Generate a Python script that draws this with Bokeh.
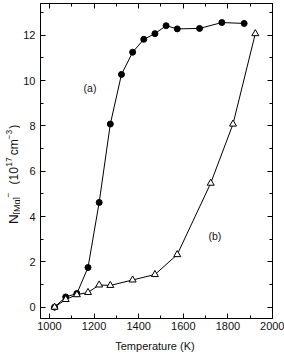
import math
from bokeh.plotting import figure
from bokeh.models import FixedTicker, LinearAxis, Label, Range1d
from bokeh.layouts import row
from bokeh.core.properties import value
from bokeh.embed import file_html
from bokeh.resources import INLINE

# ---- data ----
temps_a = [1023, 1073, 1123, 1173, 1223, 1273, 1323, 1373, 1423, 1473, 1523, 1573, 1673, 1773, 1873]
n_a = [0.0, 0.45, 0.6, 1.75, 4.62, 8.08, 10.27, 11.25, 11.82, 12.07, 12.42, 12.28, 12.3, 12.56, 12.52]

temps_b = [1023, 1073, 1123, 1173, 1223, 1273, 1373, 1473, 1573, 1723, 1823, 1923]
n_b = [0.0, 0.34, 0.55, 0.65, 0.98, 0.96, 1.2, 1.44, 2.32, 5.47, 8.08, 12.07]

x_ticks = [1000, 1200, 1400, 1600, 1800, 2000]
x_minor = [1100, 1300, 1500, 1700, 1900]
y_ticks = [0, 2, 4, 6, 8, 10, 12]
y_minor = [1, 3, 5, 7, 9, 11, 13]

FONT = "Liberation Sans"
INK = "#111111"

W, H = 284, 357
LW = 20  # width of the strip holding the y-axis title

# frame geometry (page pixels)
FL, FR, FT, FB = 38, 272, 3, 318
X0, X1 = 960, 2000
Y0, Y1 = -0.5, 13.4

p = figure(width=W - LW, height=H, output_backend="svg", toolbar_location=None,
           x_range=Range1d(X0, X1), y_range=Range1d(Y0, Y1),
           min_border_left=FL - LW, min_border_right=W - FR, min_border_top=FT,
           min_border_bottom=H - FB)
p.grid.visible = False
p.outline_line_color = "black"
p.outline_line_width = 1
p.background_fill_color = "white"
p.border_fill_color = "white"


def style_axis(ax, ticks, minor, show_labels=True):
    ax.ticker = FixedTicker(ticks=ticks, minor_ticks=minor)
    ax.major_tick_in = 5
    ax.major_tick_out = 0
    ax.minor_tick_in = 3
    ax.minor_tick_out = 0
    ax.axis_line_color = "black"
    ax.major_tick_line_color = "black"
    ax.minor_tick_line_color = "black"
    ax.major_label_text_font = FONT
    if show_labels:
        ax.major_label_text_font_size = "11px"
        ax.major_label_text_color = INK
    else:
        ax.major_label_text_font_size = "1px"
        ax.major_label_text_color = None
        ax.major_label_standoff = 0


style_axis(p.xaxis[0], x_ticks, x_minor)
style_axis(p.yaxis[0], y_ticks, y_minor)
p.xaxis[0].major_label_standoff = 3
p.yaxis[0].major_label_standoff = 5
p.xaxis[0].axis_label = "Temperature  (K)"
p.xaxis[0].axis_label_text_font = FONT
p.xaxis[0].axis_label_text_font_size = "11px"
p.xaxis[0].axis_label_text_font_style = "normal"
p.xaxis[0].axis_label_text_color = INK
p.xaxis[0].axis_label_standoff = 7

top = LinearAxis()
style_axis(top, x_ticks, x_minor, show_labels=False)
p.add_layout(top, "above")
right = LinearAxis()
style_axis(right, y_ticks, y_minor, show_labels=False)
p.add_layout(right, "right")

# ---- series ----
p.line(temps_a, n_a, line_color="black", line_width=1)
p.scatter(temps_a, n_a, marker="circle", size=6, fill_color="black", line_color="black")

p.line(temps_b, n_b, line_color="black", line_width=1)
p.scatter(temps_b, n_b, marker="triangle", size=7, fill_color="white", line_color="black", line_width=1)

# ---- annotations ----
p.add_layout(Label(x=1182, y=9.69, text="(a)", text_font=FONT, text_font_size="10.5px",
                   text_color=INK, text_align="center", text_baseline="middle"))
p.add_layout(Label(x=1742, y=3.12, text="(b)", text_font=FONT, text_font_size="10.5px",
                   text_color=INK, text_align="center", text_baseline="middle"))

# ---- y-axis title strip (pixel coordinates, y downward) ----
t = figure(width=LW, height=H, output_backend="svg", toolbar_location=None,
           x_range=Range1d(0, LW), y_range=Range1d(H, 0),
           x_axis_location=None, y_axis_location=None,
           min_border_left=0, min_border_right=0, min_border_top=0, min_border_bottom=0)
t.grid.visible = False
t.outline_line_color = None
t.background_fill_color = "white"
t.border_fill_color = "white"

title_parts = ["N", "[Mg]", "\u2212", "(10", "17", "cm", "\u22123", ")"]
title_sizes = ["13.5px", "9px", "8.5px", "12px", "8.5px", "12px", "8.5px", "12px"]
title_px = [13, 16, 7, 13, 8, 13, 8, 13]
title_py = [250, 239, 220, 205, 185, 172, 154, 142]

for txt, fs, xi, yi in zip(title_parts, title_sizes, title_px, title_py):
    t.text(x=[xi], y=[yi], text=[txt], angle=math.pi / 2,
           text_font=value(FONT), text_font_size=value(fs), text_color=INK,
           text_align="left", text_baseline="alphabetic")

layout = row(t, p, spacing=0)
open("out.html", "w").write(file_html(layout, INLINE))
